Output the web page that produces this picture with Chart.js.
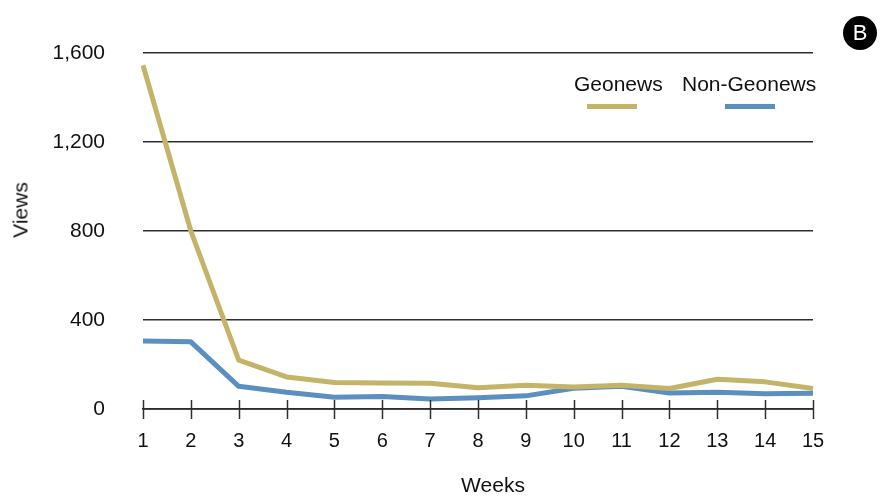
<!DOCTYPE html>
<html>
<head>
<meta charset="utf-8">
<script src="https://cdn.jsdelivr.net/npm/chart.js@4/dist/chart.umd.min.js"></script>
<style>
  html,body{margin:0;padding:0;background:#fff;}
  #wrap{position:relative;width:886px;height:497px;font-family:"Liberation Sans",Arial,sans-serif;color:#111;}
  canvas{position:absolute;left:0;top:0;}
  .txt{position:absolute;font-size:21px;white-space:nowrap;line-height:1;}
  .key{position:absolute;height:5px;width:50px;}
  #badge{position:absolute;left:843px;top:16px;width:34px;height:34px;border-radius:50%;background:#000;color:#fff;font-size:22px;text-align:center;line-height:34px;}
</style>
</head>
<body>
<div id="wrap">
  <canvas id="chart" width="886" height="497"></canvas>
  <div class="txt" id="yTitle" style="left:20px;top:210px;transform:translate(-50%,-50%) rotate(-90deg);">Views</div>
  <div class="txt" id="xTitle" style="left:493px;top:484px;transform:translate(-50%,-50%);">Weeks</div>
  <div class="txt" style="left:574px;top:73px;">Geonews</div>
  <div class="txt" style="left:682px;top:73px;">Non-Geonews</div>
  <div class="key" id="key0" style="left:587px;top:104px;"></div>
  <div class="key" id="key1" style="left:725px;top:104px;"></div>
  <div id="badge">B</div>
</div>
<script>
const weeks = ['1','2','3','4','5','6','7','8','9','10','11','12','13','14','15'];
const geonews = [1545, 800, 220, 144, 119, 117, 116, 96, 107, 99, 107, 92, 134, 122, 92];
const nonGeonews = [306, 302, 102, 75, 53, 56, 45, 51, 59, 93, 102, 72, 75, 68, 71];
const yTicks = [0, 400, 800, 1200, 1600];

const GOLD = '#c3b469', BLUE = '#5b8fc0', INK = '#2e2e2e';
document.getElementById('key0').style.background = GOLD;
document.getElementById('key1').style.background = BLUE;

// x ticks cross the axis line (above and below)
const crossTicks = {
  id:'crossTicks',
  afterDraw(chart){
    const {ctx, scales:{x, y}} = chart;
    const y0 = y.getPixelForValue(0);
    ctx.save();
    ctx.strokeStyle = INK; ctx.lineWidth = 1.5;
    weeks.forEach((w,i)=>{
      const px = Math.round(x.getPixelForValue(i)) + 0.5;
      ctx.beginPath(); ctx.moveTo(px, y0-9); ctx.lineTo(px, y0+10); ctx.stroke();
    });
    ctx.restore();
  }
};

new Chart(document.getElementById('chart'), {
  type:'line',
  data:{
    labels:weeks,
    datasets:[
      {label:'Geonews', data:geonews, borderColor:GOLD, borderWidth:5, pointRadius:0, tension:0, borderJoinStyle:'round'},
      {label:'Non-Geonews', data:nonGeonews, borderColor:BLUE, borderWidth:5, pointRadius:0, tension:0, borderJoinStyle:'round'}
    ]
  },
  options:{
    responsive:false, animation:false,
    layout:{padding:{top:53, right:73, bottom:0, left:0}},
    plugins:{legend:{display:false}, tooltip:{enabled:false}},
    scales:{
      x:{
        offset:false,
        grid:{display:false, drawTicks:false},
        border:{display:true, color:INK, width:1.75},
        ticks:{color:'#111', font:{family:'"Liberation Sans", Arial', size:20}, padding:20, maxRotation:0, autoSkip:false},
        afterFit(s){ s.height = 88; }
      },
      y:{
        min:0, max:1600,
        afterBuildTicks(s){ s.ticks = yTicks.map(v=>({value:v})); },
        grid:{color:INK, lineWidth:1.5, drawTicks:false},
        border:{display:false},
        ticks:{color:'#111', font:{family:'"Liberation Sans", Arial', size:21}, padding:38,
               callback:v=>v.toLocaleString('en-US')},
        afterFit(s){ s.width = 143; }
      }
    }
  },
  plugins:[crossTicks]
});
</script>
</body>
</html>
